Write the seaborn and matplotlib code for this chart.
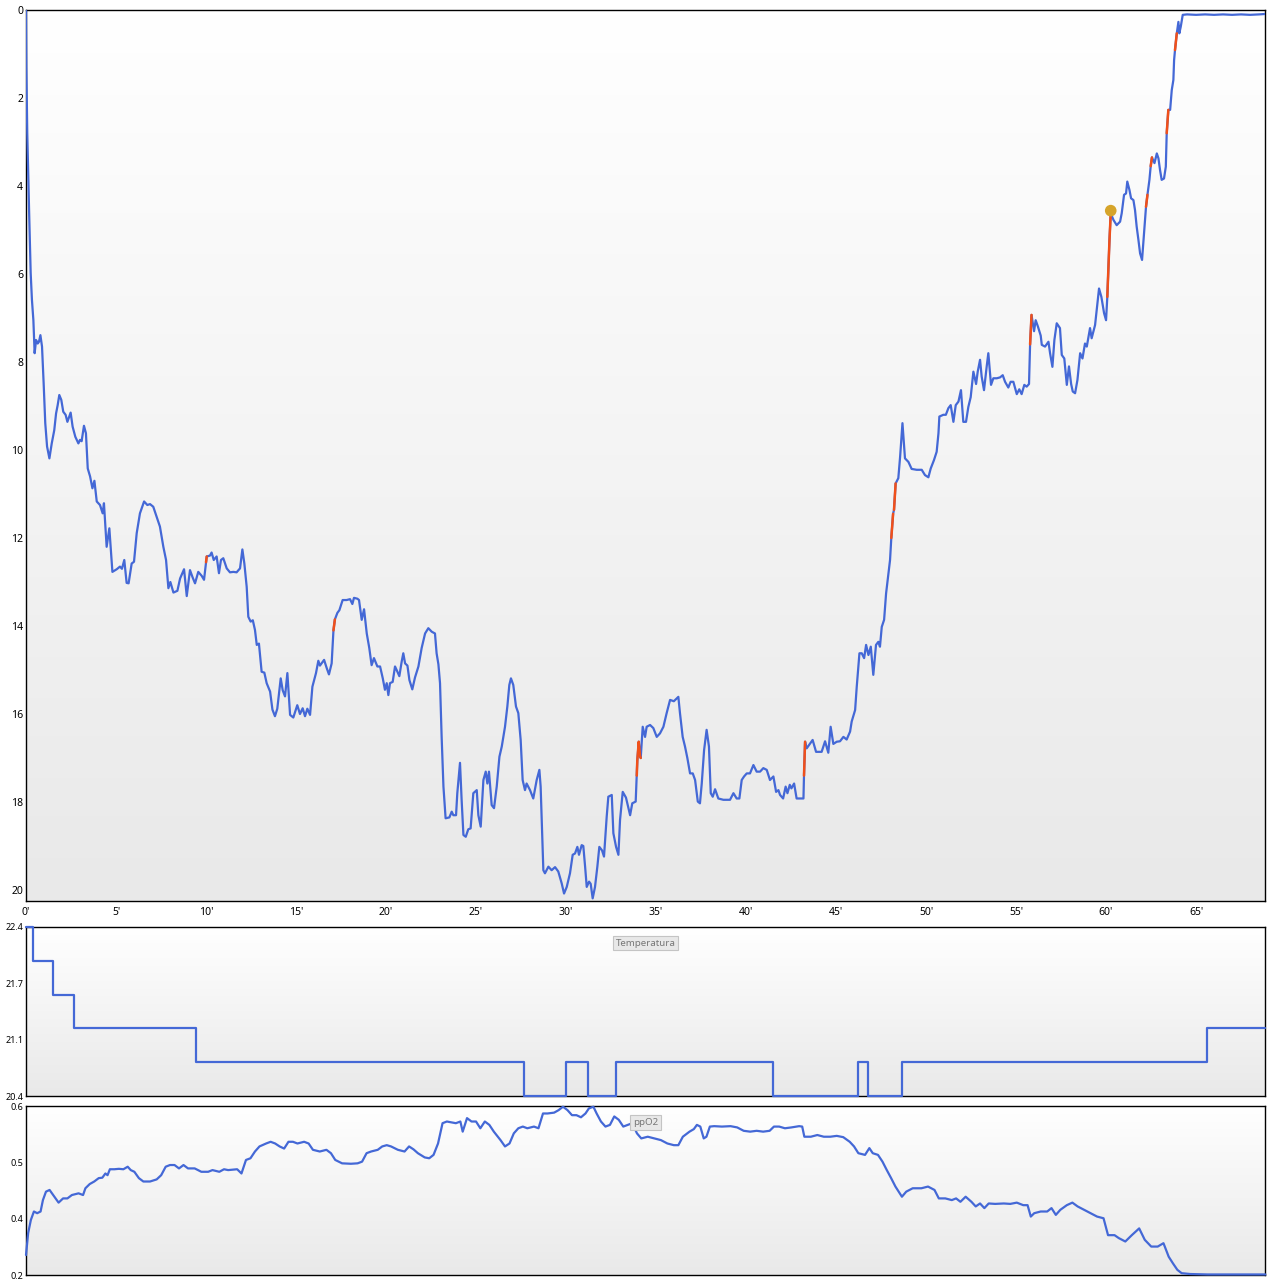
import numpy as np
import pandas as pd
import matplotlib
matplotlib.use("Agg")
import matplotlib.pyplot as plt
from matplotlib.colors import LinearSegmentedColormap
import seaborn as sns

depth_min = [0.00, 0.02, 0.07, 0.13, 0.18, 0.26, 0.33, 0.41, 0.48, 0.56, 0.65, 0.72, 0.80, 0.89, 0.98,
             1.07, 1.17, 1.30, 1.43, 1.57, 1.67, 1.76, 1.85, 1.96, 2.07, 2.20, 2.30, 2.48, 2.59, 2.74,
             2.91, 3.00, 3.09, 3.22, 3.33, 3.43, 3.56, 3.69, 3.80, 3.93, 4.11, 4.26, 4.33, 4.48, 4.63,
             4.80, 5.04, 5.22, 5.33, 5.46, 5.59, 5.70, 5.87, 6.00, 6.15, 6.33, 6.56, 6.74, 6.89, 7.07,
             7.26, 7.44, 7.63, 7.78, 7.91, 8.02, 8.19, 8.41, 8.56, 8.78, 8.93, 9.11, 9.26, 9.39, 9.57,
             9.76, 9.89, 10.00, 10.04, 10.22, 10.31, 10.43, 10.59, 10.72, 10.83, 10.96, 11.15, 11.33,
             11.52, 11.70, 11.89, 12.02, 12.13, 12.26, 12.35, 12.48, 12.60, 12.72, 12.82, 12.94, 13.09,
             13.24, 13.37, 13.56, 13.69, 13.83, 13.96, 14.15, 14.26, 14.39, 14.52, 14.67, 14.85, 15.07,
             15.22, 15.37, 15.50, 15.63, 15.78, 15.91, 16.11, 16.24, 16.33, 16.56, 16.70, 16.83, 16.98,
             17.08, 17.16, 17.30, 17.41, 17.59, 17.81, 18.00, 18.13, 18.22, 18.41, 18.50, 18.65, 18.78,
             18.93, 19.07, 19.20, 19.33, 19.52, 19.67, 19.82, 19.94, 20.04, 20.13, 20.22, 20.37, 20.50,
             20.59, 20.74, 20.87, 20.96, 21.06, 21.19, 21.30, 21.46, 21.61, 21.80, 21.98, 22.17, 22.35,
             22.54, 22.72, 22.81, 22.91, 23.00, 23.09, 23.19, 23.31, 23.52, 23.65, 23.74, 23.89, 23.96,
             24.11, 24.20, 24.30, 24.43, 24.57, 24.70, 24.85, 25.04, 25.13, 25.26, 25.41, 25.54, 25.63,
             25.72, 25.87, 26.00, 26.15, 26.30, 26.43, 26.61, 26.74, 26.85, 26.94, 27.07, 27.22, 27.35,
             27.48, 27.59, 27.72, 27.81, 28.00, 28.18, 28.37, 28.52, 28.59, 28.65, 28.74, 28.83, 29.02,
             29.20, 29.39, 29.57, 29.76, 29.89, 30.04, 30.22, 30.37, 30.50, 30.63, 30.72, 30.87, 30.96,
             31.06, 31.15, 31.28, 31.37, 31.48, 31.61, 31.74, 31.85, 32.00, 32.11, 32.26, 32.35, 32.54,
             32.63, 32.78, 32.91, 33.00, 33.15, 33.33, 33.56, 33.68, 33.87, 33.93, 33.96, 34.04, 34.11,
             34.15, 34.26, 34.39, 34.48, 34.67, 34.85, 35.04, 35.22, 35.41, 35.59, 35.78, 35.99, 36.24,
             36.33, 36.48, 36.61, 36.74, 36.89, 37.04, 37.17, 37.32, 37.44, 37.54, 37.67, 37.81, 37.94,
             38.04, 38.15, 38.28, 38.46, 38.74, 39.11, 39.30, 39.48, 39.63, 39.76, 39.89, 40.04, 40.22,
             40.41, 40.59, 40.78, 40.96, 41.15, 41.33, 41.52, 41.67, 41.80, 41.89, 42.06, 42.20, 42.30,
             42.43, 42.52, 42.67, 42.81, 43.00, 43.19, 43.22, 43.28, 43.37, 43.56, 43.70, 43.89, 44.20,
             44.39, 44.57, 44.70, 44.85, 45.04, 45.22, 45.41, 45.59, 45.78, 45.87, 46.06, 46.15, 46.30,
             46.43, 46.56, 46.67, 46.80, 46.93, 47.07, 47.22, 47.35, 47.44, 47.54, 47.67, 47.78, 47.91,
             48.00, 48.07, 48.17, 48.22, 48.31, 48.46, 48.56, 48.69, 48.83, 49.02, 49.20, 49.48, 49.76,
             49.94, 50.13, 50.26, 50.44, 50.59, 50.69, 50.74, 50.96, 51.10, 51.24, 51.37, 51.52, 51.65,
             51.80, 51.94, 52.07, 52.22, 52.35, 52.48, 52.63, 52.78, 52.87, 53.00, 53.09, 53.22, 53.37,
             53.46, 53.61, 53.74, 53.93, 54.11, 54.26, 54.39, 54.57, 54.70, 54.85, 55.04, 55.18, 55.31,
             55.46, 55.59, 55.72, 55.78, 55.86, 56.00, 56.09, 56.22, 56.37, 56.43, 56.61, 56.80, 56.89,
             57.02, 57.13, 57.26, 57.44, 57.54, 57.68, 57.82, 57.94, 58.06, 58.15, 58.28, 58.41, 58.56,
             58.69, 58.83, 58.93, 59.11, 59.20, 59.39, 59.54, 59.61, 59.74, 59.89, 60.00, 60.07, 60.19,
             60.26, 60.41, 60.59, 60.78, 60.87, 61.00, 61.11, 61.18, 61.30, 61.39, 61.52, 61.61, 61.70,
             61.80, 61.89, 62.00, 62.11, 62.22, 62.30, 62.41, 62.48, 62.55, 62.69, 62.82, 62.91, 63.00,
             63.09, 63.22, 63.32, 63.37, 63.46, 63.56, 63.65, 63.74, 63.78, 63.83, 63.93, 64.02, 64.07,
             64.15, 64.26, 64.50, 65.00, 65.50, 66.00, 66.50, 67.00, 67.50, 68.00, 68.50, 68.85]

depth_m = [0.00, 1.29, 2.80, 3.86, 4.70, 5.98, 6.59, 7.05, 7.80, 7.50, 7.58, 7.54, 7.39, 7.65, 8.48,
           9.39, 9.92, 10.19, 9.85, 9.55, 9.17, 8.98, 8.75, 8.86, 9.13, 9.20, 9.36, 9.15, 9.47, 9.70,
           9.85, 9.77, 9.80, 9.45, 9.62, 10.42, 10.60, 10.87, 10.70, 11.17, 11.25, 11.44, 11.21, 12.20, 11.78,
           12.77, 12.71, 12.65, 12.70, 12.50, 13.02, 13.03, 12.58, 12.54, 11.89, 11.44, 11.17, 11.25, 11.23, 11.29,
           11.52, 11.74, 12.20, 12.50, 13.14, 13.00, 13.24, 13.20, 12.92, 12.71, 13.32, 12.73, 12.90, 13.03, 12.77,
           12.86, 12.95, 12.55, 12.42, 12.40, 12.33, 12.50, 12.42, 12.80, 12.50, 12.46, 12.69, 12.78,
           12.77, 12.78, 12.69, 12.26, 12.58, 13.11, 13.79, 13.90, 13.87, 14.09, 14.43, 14.40, 15.04,
           15.06, 15.30, 15.49, 15.90, 16.05, 15.88, 15.19, 15.46, 15.60, 15.07, 16.02, 16.08, 15.80,
           16.00, 15.87, 16.05, 15.88, 16.02, 15.38, 15.07, 14.79, 14.90, 14.77, 14.95, 15.10, 14.85,
           14.10, 13.85, 13.70, 13.64, 13.41, 13.41, 13.39, 13.50, 13.36, 13.38, 13.41, 13.86, 13.62,
           14.17, 14.50, 14.89, 14.73, 14.92, 14.92, 15.19, 15.45, 15.30, 15.57, 15.30, 15.27, 14.92,
           15.00, 15.14, 14.81, 14.62, 14.85, 14.90, 15.23, 15.44, 15.17, 14.92, 14.50, 14.17, 14.05,
           14.13, 14.17, 14.62, 14.87, 15.30, 16.52, 17.65, 18.37, 18.35, 18.22, 18.30, 18.30, 17.80,
           17.11, 17.95, 18.75, 18.79, 18.62, 18.60, 17.80, 17.73, 18.30, 18.56, 17.50, 17.31, 17.58,
           17.31, 18.07, 18.14, 17.65, 16.97, 16.74, 16.29, 15.83, 15.34, 15.19, 15.34, 15.83, 15.98,
           16.59, 17.50, 17.73, 17.58, 17.73, 17.92, 17.50, 17.27, 17.65, 18.41, 19.55, 19.62, 19.47,
           19.55, 19.48, 19.58, 19.85, 20.08, 19.93, 19.62, 19.20, 19.17, 19.02, 19.20, 18.98, 19.00,
           19.47, 19.93, 19.81, 19.86, 20.19, 19.93, 19.47, 19.02, 19.10, 19.24, 18.33, 17.88, 17.84,
           18.71, 19.02, 19.20, 18.41, 17.77, 17.90, 18.30, 18.03, 17.99, 17.40, 17.05, 16.63, 16.95,
           17.00, 16.29, 16.52, 16.29, 16.25, 16.32, 16.52, 16.44, 16.29, 15.98, 15.68, 15.71, 15.61,
           15.98, 16.52, 16.74, 17.00, 17.35, 17.35, 17.50, 17.99, 18.03, 17.58, 16.82, 16.36, 16.74,
           17.80, 17.88, 17.71, 17.92, 17.95, 17.95, 17.80, 17.92, 17.92, 17.50, 17.42, 17.35, 17.35,
           17.16, 17.31, 17.31, 17.23, 17.27, 17.50, 17.42, 17.77, 17.73, 17.84, 17.92, 17.65, 17.80,
           17.61, 17.69, 17.58, 17.92, 17.92, 17.92, 17.40, 16.63, 16.78, 16.67, 16.59, 16.86, 16.86,
           16.62, 16.88, 16.29, 16.68, 16.63, 16.62, 16.52, 16.58, 16.40, 16.17, 15.91, 15.38, 14.62,
           14.62, 14.73, 14.43, 14.66, 14.47, 15.11, 14.43, 14.36, 14.47, 14.02, 13.86, 13.26, 12.80,
           12.50, 12.00, 11.45, 11.36, 10.76, 10.64, 10.15, 9.39, 10.19, 10.27, 10.43, 10.45, 10.45,
           10.57, 10.62, 10.42, 10.23, 10.04, 9.62, 9.24, 9.20, 9.20, 9.05, 8.98, 9.36, 8.98,
           8.90, 8.64, 9.36, 9.36, 9.02, 8.80, 8.22, 8.50, 8.22, 7.95, 8.33, 8.64, 8.10,
           7.80, 8.52, 8.37, 8.37, 8.35, 8.30, 8.45, 8.58, 8.45, 8.45, 8.73, 8.62, 8.73,
           8.52, 8.56, 8.50, 7.60, 6.93, 7.30, 7.05, 7.20, 7.40, 7.61, 7.65, 7.54, 7.80,
           8.11, 7.50, 7.12, 7.23, 7.84, 7.92, 8.52, 8.10, 8.50, 8.67, 8.71, 8.41, 7.80,
           7.92, 7.58, 7.65, 7.23, 7.46, 7.16, 6.59, 6.33, 6.52, 6.89, 7.05, 6.52, 5.23,
           4.62, 4.77, 4.89, 4.81, 4.62, 4.20, 4.17, 3.90, 4.09, 4.28, 4.32, 4.55, 4.92,
           5.23, 5.53, 5.68, 5.08, 4.47, 4.20, 3.86, 3.55, 3.35, 3.48, 3.26, 3.37, 3.64,
           3.86, 3.83, 3.56, 2.80, 2.27, 2.27, 1.82, 1.59, 1.14, 0.91, 0.53, 0.27, 0.53,
           0.38, 0.11, 0.10, 0.11, 0.10, 0.11, 0.10, 0.11, 0.10, 0.11, 0.10, 0.09]

# ascent-rate warnings (red pieces of the profile), in minutes
alarm_ranges = [(10.00, 10.04), (17.08, 17.16), (33.93, 34.15), (43.22, 43.28),
                (48.07, 48.17), (48.22, 48.31), (55.78, 55.86), (60.07, 60.26),
                (62.22, 62.30), (62.48, 62.55), (63.37, 63.46), (63.83, 63.93)]

# marker (gold dot)
event_min = [60.26]
event_depth = [4.56]

# temperature steps
temp_min = [0.00, 0.37, 1.48, 2.68, 9.47, 27.65, 30.00, 31.20, 32.80, 41.50, 46.23, 46.78, 48.64, 65.62, 68.85]
temp_c = [22.4, 22.0, 21.6, 21.2, 20.8, 20.4, 20.8, 20.4, 20.8, 20.4, 20.8, 20.4, 20.8, 21.2, 21.2]

# ppO2
ppo2_min = [0.00, 0.12, 0.27, 0.44, 0.62, 0.81, 0.94, 1.11, 1.31, 1.51, 1.81, 2.06, 2.30, 2.55, 2.92,
            3.17, 3.30, 3.54, 3.79, 4.04, 4.24, 4.41, 4.53, 4.66, 4.91, 5.16, 5.41, 5.65, 5.82, 6.02,
            6.27, 6.52, 6.89, 7.26, 7.51, 7.76, 8.00, 8.25, 8.50, 8.75, 9.00, 9.37, 9.74, 10.12, 10.36,
            10.74, 11.00, 11.23, 11.73, 11.97, 12.22, 12.47, 12.72, 12.97, 13.34, 13.59, 13.84, 14.09,
            14.34, 14.58, 14.83, 15.08, 15.45, 15.70, 15.94, 16.32, 16.69, 16.94, 17.18, 17.56, 18.05,
            18.42, 18.67, 18.92, 19.17, 19.54, 19.79, 20.04, 20.28, 20.66, 21.03, 21.28, 21.53, 21.77,
            22.15, 22.40, 22.64, 22.89, 23.14, 23.38, 23.88, 24.13, 24.26, 24.50, 24.75, 25.00, 25.24,
            25.49, 25.74, 25.99, 26.36, 26.61, 26.86, 27.10, 27.35, 27.60, 27.85, 28.22, 28.47, 28.72,
            28.97, 29.34, 29.59, 29.83, 30.08, 30.33, 30.58, 30.83, 31.08, 31.27, 31.52, 31.70, 31.94,
            32.19, 32.44, 32.68, 32.93, 33.18, 33.43, 33.68, 33.94, 34.18, 34.54, 34.90, 35.27, 35.63,
            35.99, 36.24, 36.49, 36.86, 37.10, 37.27, 37.46, 37.65, 37.80, 37.99, 38.23, 38.66, 39.14,
            39.51, 39.87, 40.23, 40.59, 40.95, 41.31, 41.55, 41.84, 42.16, 42.52, 42.95, 43.12, 43.24,
            43.60, 43.96, 44.32, 44.68, 45.04, 45.40, 45.76, 46.00, 46.24, 46.61, 46.85, 47.04, 47.33,
            47.58, 47.82, 48.06, 48.30, 48.54, 48.66, 48.90, 49.26, 49.74, 50.11, 50.47, 50.71, 51.07,
            51.43, 51.67, 51.91, 52.20, 52.52, 52.76, 53.00, 53.24, 53.48, 53.84, 54.32, 54.68, 55.04,
            55.40, 55.64, 55.82, 56.01, 56.37, 56.73, 56.97, 57.21, 57.46, 57.82, 58.13, 58.42, 58.78,
            59.14, 59.50, 59.86, 60.11, 60.47, 60.71, 61.07, 61.43, 61.84, 62.15, 62.51, 62.87, 63.19,
            63.48, 63.72, 63.96, 64.20, 64.68, 65.64, 66.85, 68.85]

ppo2_bar = [0.248, 0.300, 0.331, 0.351, 0.347, 0.351, 0.378, 0.398, 0.402, 0.390, 0.372, 0.382, 0.382,
            0.390, 0.394, 0.390, 0.406, 0.416, 0.422, 0.430, 0.431, 0.441, 0.437, 0.451, 0.451, 0.452,
            0.451, 0.457, 0.449, 0.445, 0.430, 0.422, 0.422, 0.427, 0.437, 0.457, 0.461, 0.461, 0.453,
            0.461, 0.453, 0.453, 0.445, 0.445, 0.449, 0.445, 0.451, 0.449, 0.451, 0.441, 0.473, 0.477,
            0.493, 0.505, 0.512, 0.516, 0.512, 0.505, 0.500, 0.516, 0.516, 0.512, 0.516, 0.512, 0.497,
            0.493, 0.497, 0.489, 0.473, 0.465, 0.464, 0.465, 0.469, 0.489, 0.493, 0.497, 0.505, 0.508,
            0.505, 0.497, 0.493, 0.505, 0.498, 0.489, 0.479, 0.477, 0.485, 0.512, 0.560, 0.564, 0.560,
            0.564, 0.540, 0.572, 0.564, 0.564, 0.548, 0.564, 0.556, 0.540, 0.520, 0.505, 0.512, 0.536,
            0.548, 0.552, 0.548, 0.552, 0.548, 0.583, 0.583, 0.585, 0.591, 0.599, 0.591, 0.579, 0.579,
            0.574, 0.583, 0.595, 0.599, 0.583, 0.564, 0.552, 0.556, 0.576, 0.568, 0.552, 0.556, 0.560,
            0.536, 0.524, 0.528, 0.524, 0.520, 0.512, 0.508, 0.508, 0.528, 0.540, 0.546, 0.556, 0.552,
            0.524, 0.528, 0.552, 0.553, 0.552, 0.553, 0.550, 0.542, 0.540, 0.542, 0.540, 0.542, 0.552,
            0.552, 0.548, 0.550, 0.553, 0.552, 0.528, 0.528, 0.532, 0.528, 0.528, 0.530, 0.527, 0.516,
            0.505, 0.489, 0.485, 0.501, 0.489, 0.485, 0.469, 0.449, 0.430, 0.410, 0.394, 0.386, 0.398,
            0.406, 0.406, 0.410, 0.402, 0.382, 0.382, 0.378, 0.382, 0.374, 0.386, 0.374, 0.363, 0.370,
            0.359, 0.370, 0.369, 0.370, 0.369, 0.372, 0.366, 0.366, 0.339, 0.347, 0.351, 0.351, 0.359,
            0.343, 0.355, 0.366, 0.372, 0.363, 0.355, 0.347, 0.339, 0.335, 0.295, 0.295, 0.288, 0.280,
            0.295, 0.311, 0.284, 0.268, 0.268, 0.276, 0.244, 0.228, 0.213, 0.205, 0.203, 0.202, 0.202,
            0.202]

x_ticks = list(range(0, 70, 5))
depth_ticks = list(range(0, 21, 2))
temp_ticks = list(np.linspace(20.4, 22.4, 4))
ppo2_ticks = list(np.linspace(0.2, 0.6, 4))
ppo2_tick_labels = ["0.2", "0.4", "0.5", "0.6"]

# ---- styling ----
sns.set_theme(style="white")
plt.rcParams["font.family"] = ["Noto Sans", "DejaVu Sans"]

BLUE = "#4468d6"
RED = "#f0501a"
GOLD = "#d6a42a"
XMAX = 68.83

bg_cmap = LinearSegmentedColormap.from_list("bg", ["#ffffff", "#e9e9e9"])


def panel_background(ax):
    grad = np.linspace(0, 1, 256).reshape(-1, 1)
    ax.imshow(grad, cmap=bg_cmap, extent=(0, 1, 0, 1), transform=ax.transAxes,
              aspect="auto", zorder=0, interpolation="bilinear")
    for s in ax.spines.values():
        s.set_color("black")
        s.set_linewidth(1.0)
        s.set_visible(True)
    ax.tick_params(length=0, pad=2, labelsize=7.5, colors="black")


fig = plt.figure(figsize=(12.8, 12.8), dpi=100)
left, width = 26 / 1280, 1239 / 1280
ax_d = fig.add_axes([left, 1 - 901 / 1280, width, 891 / 1280])
ax_t = fig.add_axes([left, 1 - 1096 / 1280, width, 169 / 1280])
ax_p = fig.add_axes([left, 1 - 1275.3 / 1280, width, 169 / 1280])

# ---- depth profile ----
panel_background(ax_d)
depth_df = pd.DataFrame({"min": depth_min, "depth": depth_m})
sns.lineplot(data=depth_df, x="min", y="depth", ax=ax_d, color=BLUE, lw=1.6,
             estimator=None, sort=False, zorder=3)
for a, b in alarm_ranges:
    seg = depth_df[(depth_df["min"] >= a - 1e-6) & (depth_df["min"] <= b + 1e-6)]
    sns.lineplot(data=seg, x="min", y="depth", ax=ax_d, color=RED, lw=1.8,
                 estimator=None, sort=False, zorder=4)
sns.scatterplot(x=event_min, y=event_depth, ax=ax_d, color=GOLD, s=70,
                edgecolor="none", zorder=5)
ax_d.set_xlim(0, XMAX)
ax_d.set_ylim(20.25, 0)
ax_d.set_xticks(x_ticks)
ax_d.set_xticklabels([f"{m}'" for m in x_ticks])
ax_d.set_yticks(depth_ticks)
ax_d.set_yticklabels([str(d) for d in depth_ticks])
ax_d.set_xlabel("")
ax_d.set_ylabel("")
ax_d.tick_params(axis="x", pad=4)

# ---- temperature ----
panel_background(ax_t)
temp_df = pd.DataFrame({"min": temp_min, "temp": temp_c})
sns.lineplot(data=temp_df, x="min", y="temp", ax=ax_t, color=BLUE, lw=1.6,
             estimator=None, sort=False, drawstyle="steps-post", zorder=3, clip_on=False)
ax_t.set_xlim(0, XMAX)
ax_t.set_ylim(20.4, 22.4)
ax_t.set_xticks([])
ax_t.set_yticks(temp_ticks)
ax_t.set_yticklabels([f"{v:.1f}" for v in temp_ticks], fontsize=6.5)
ax_t.set_xlabel("")
ax_t.set_ylabel("")
ax_t.text(0.5, 0.905, "Temperatura", transform=ax_t.transAxes, ha="center", va="center",
          fontsize=7, color="#777777", zorder=6,
          bbox=dict(boxstyle="square,pad=0.3", fc="#e8e8e8", ec="#c4c4c4", lw=0.8))

# ---- ppO2 ----
panel_background(ax_p)
ppo2_df = pd.DataFrame({"min": ppo2_min, "ppo2": ppo2_bar})
sns.lineplot(data=ppo2_df, x="min", y="ppo2", ax=ax_p, color=BLUE, lw=1.6,
             estimator=None, sort=False, zorder=3, clip_on=False)
ax_p.set_xlim(0, XMAX)
ax_p.set_ylim(0.2, 0.6)
ax_p.set_xticks([])
ax_p.set_yticks(ppo2_ticks)
ax_p.set_yticklabels(ppo2_tick_labels, fontsize=6.5)
ax_p.set_xlabel("")
ax_p.set_ylabel("")
ax_p.text(0.5, 0.905, "ppO2", transform=ax_p.transAxes, ha="center", va="center",
          fontsize=7, color="#777777", zorder=6,
          bbox=dict(boxstyle="square,pad=0.3", fc="#e8e8e8", ec="#c4c4c4", lw=0.8))

fig.savefig("out.png", dpi=100, facecolor="white")
